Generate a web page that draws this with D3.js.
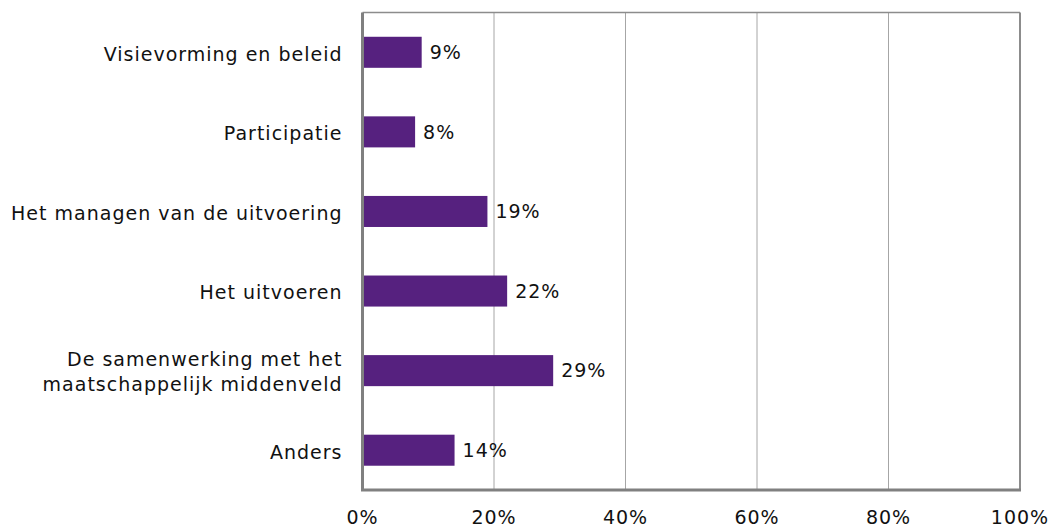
<!DOCTYPE html>
<html>
<head>
<meta charset="utf-8">
<script src="https://cdn.jsdelivr.net/npm/d3@7"></script>
<style>
  body { margin: 0; background: #fff; }
  text { font-family: "DejaVu Sans", sans-serif; fill: #111; letter-spacing: 1px; }
</style>
</head>
<body>
<div id="chart"></div>
<script>
// categories top to bottom, values in percent
const categories = [
    "Visievorming en beleid",
    "Participatie",
    "Het managen van de uitvoering",
    "Het uitvoeren",
    "De samenwerking met het\nmaatschappelijk middenveld",
    "Anders"
];
const values = [9, 8, 19, 22, 29, 14];
const xTicks = [0, 20, 40, 60, 80, 100];

const W = 1051, H = 528;
const margin = { top: 12.5, right: 31, bottom: 38, left: 362.5 };
const width = W - margin.left - margin.right;
const height = H - margin.top - margin.bottom;

const svg = d3.select("#chart").append("svg")
    .attr("width", W)
    .attr("height", H);

const g = svg.append("g")
    .attr("transform", "translate(" + margin.left + "," + margin.top + ")");

const x = d3.scaleLinear().domain([0, 100]).range([0, width]);
const y = d3.scaleBand().domain(categories).range([0, height]).paddingInner(0.61).paddingOuter(0.305);

// gridlines
g.selectAll(".grid")
    .data(xTicks.filter(d => d > 0 && d < 100))
    .enter().append("line")
    .attr("x1", d => x(d)).attr("x2", d => x(d))
    .attr("y1", 0).attr("y2", height)
    .attr("stroke", "#a6a6a6")
    .attr("stroke-width", 1);

// frame: top and right thin, left and bottom thick
g.append("line").attr("x1", 0).attr("x2", width).attr("y1", 0).attr("y2", 0)
    .attr("stroke", "#8c8c8c").attr("stroke-width", 1.5);
g.append("line").attr("x1", width).attr("x2", width).attr("y1", 0).attr("y2", height)
    .attr("stroke", "#8c8c8c").attr("stroke-width", 2);

// bars
g.selectAll(".bar")
    .data(values)
    .enter().append("rect")
    .attr("x", 0)
    .attr("y", (d, i) => y(categories[i]))
    .attr("width", d => x(d))
    .attr("height", y.bandwidth())
    .attr("fill", "#56217f");

// value labels
g.selectAll(".val")
    .data(values)
    .enter().append("text")
    .attr("x", d => x(d) + 8)
    .attr("y", (d, i) => y(categories[i]) + y.bandwidth() / 2)
    .attr("dy", "0.36em")
    .style("font-size", "19px")
    .text(d => d + "%");

// left and bottom axis lines
g.append("line").attr("x1", 0).attr("x2", 0).attr("y1", 0).attr("y2", height)
    .attr("stroke", "#808080").attr("stroke-width", 3);
g.append("line").attr("x1", -1.5).attr("x2", width + 1).attr("y1", height).attr("y2", height)
    .attr("stroke", "#808080").attr("stroke-width", 3);

// x tick labels
g.selectAll(".xt")
    .data(xTicks)
    .enter().append("text")
    .attr("x", d => x(d))
    .attr("y", height + 33.5)
    .attr("text-anchor", "middle")
    .style("font-size", "19px")
    .text(d => d + "%");

// category labels (may wrap on two lines)
g.selectAll(".cat")
    .data(categories)
    .enter().append("text")
    .attr("text-anchor", "end")
    .style("font-size", "19px")
    .each(function (d) {
        const lines = d.split("\n");
        const cy = y(d) + y.bandwidth() / 2;
        const t = d3.select(this);
        lines.forEach((l, i) => {
            t.append("tspan")
                .attr("x", -20)
                .attr("y", cy + 1.5 + (i - (lines.length - 1) / 2) * 25)
                .attr("dy", "0.36em")
                .text(l);
        });
    });
</script>
</body>
</html>
